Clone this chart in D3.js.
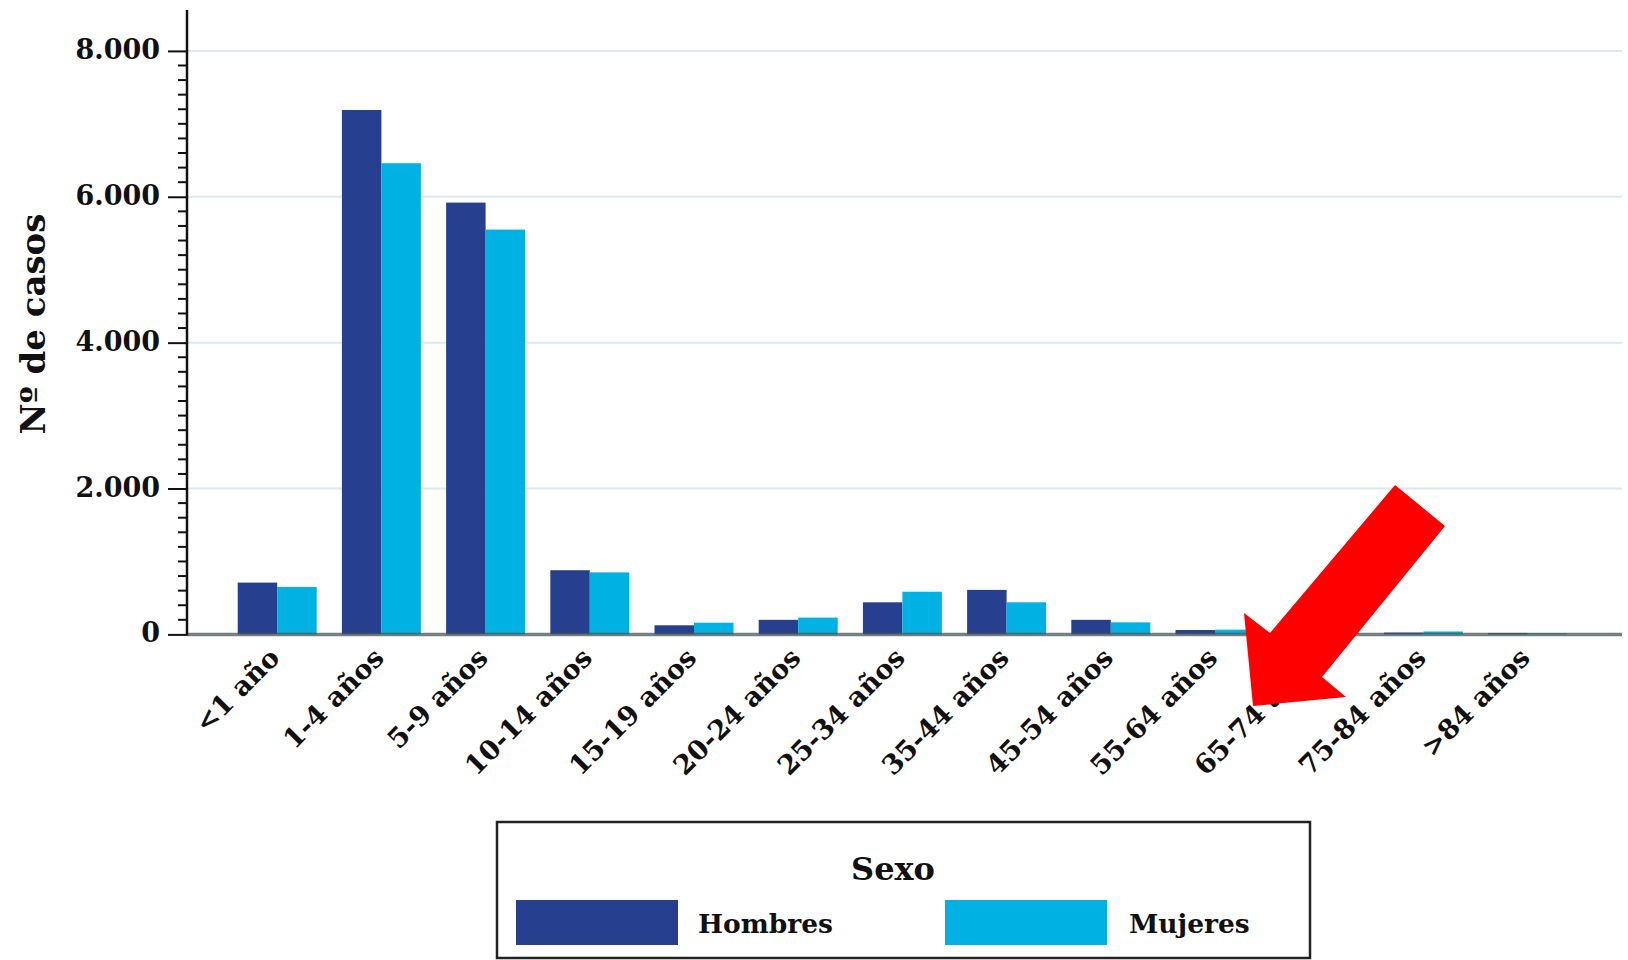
<!DOCTYPE html>
<html>
<head>
<meta charset="utf-8">
<script src="https://cdn.jsdelivr.net/npm/d3@7"></script>
<style>
  html, body { margin: 0; padding: 0; background: #ffffff; }
  svg { display: block; }
  text { font-family: "DejaVu Serif", "Liberation Serif", serif; fill: #111; }
</style>
</head>
<body>
<svg id="chart" width="1628" height="960"></svg>
<script>
// ---- data ----
const categories = ["<1 año", "1-4 años", "5-9 años", "10-14 años", "15-19 años", "20-24 años",
  "25-34 años", "35-44 años", "45-54 años", "55-64 años", "65-74 años", "75-84 años", ">84 años"];
const seriesNames = ["Hombres", "Mujeres"];
const hombres = [710, 7190, 5920, 880, 125, 200, 440, 610, 200, 60, 40, 25, 20];
const mujeres = [650, 6460, 5550, 850, 160, 230, 585, 440, 165, 65, 45, 40, 15];
const yTicks = [0, 2000, 4000, 6000, 8000];
const yTickLabels = ["0", "2.000", "4.000", "6.000", "8.000"];
const colors = ["#26408f", "#00b2e3"];

const svg = d3.select("#chart");

// ---- scales ----
const x0 = d3.scaleBand().domain(categories).range([225.1, 1579.7]).paddingInner(0.242).paddingOuter(0.121);
const x1 = d3.scaleBand().domain(seriesNames).range([0, x0.bandwidth()]).padding(0);
const y = d3.scaleLinear().domain([0, 8000]).range([634.4, 50.9]);
const color = d3.scaleOrdinal().domain(seriesNames).range(colors);

const axisX = 187;
const rightEdge = 1622;

// ---- gridlines ----
svg.append("g").selectAll("line").data(yTicks.filter(d => d > 0)).join("line")
  .attr("x1", axisX).attr("x2", rightEdge)
  .attr("y1", d => y(d)).attr("y2", d => y(d))
  .attr("stroke", "#dbe8ec").attr("stroke-width", 2);

// ---- bars ----
const rows = categories.map((c, i) => ({ cat: c, values: [hombres[i], mujeres[i]] }));
const groups = svg.append("g").selectAll("g").data(rows).join("g")
  .attr("transform", d => `translate(${x0(d.cat)},0)`);
groups.selectAll("rect").data(d => seriesNames.map((s, j) => ({ s, v: d.values[j] }))).join("rect")
  .attr("x", d => x1(d.s))
  .attr("width", x1.bandwidth())
  .attr("y", d => y(d.v))
  .attr("height", d => y(0) - y(d.v))
  .attr("fill", d => color(d.s));

// ---- baseline ----
svg.append("line")
  .attr("x1", axisX).attr("x2", rightEdge)
  .attr("y1", y(0)).attr("y2", y(0))
  .attr("stroke", "#4a5656").attr("stroke-opacity", 0.75).attr("stroke-width", 3.5);

// ---- y axis ----
const yAxis = d3.axisLeft(y).tickValues(yTicks)
  .tickFormat((d, i) => yTickLabels[i]).tickSize(19).tickPadding(8);
const gY = svg.append("g").attr("transform", `translate(${axisX},0)`).call(yAxis);
gY.select(".domain").remove();
gY.selectAll(".tick line").attr("stroke", "#111").attr("stroke-width", 2);
gY.selectAll(".tick text")
  .attr("font-family", '"DejaVu Serif", serif')
  .attr("font-weight", "bold")
  .attr("font-size", 27)
  .attr("fill", "#111")
  .attr("dy", "0.28em");

// minor ticks every 200
const minor = d3.range(200, 8000, 200).filter(v => v % 2000 !== 0);
svg.append("g").selectAll("line").data(minor).join("line")
  .attr("x1", axisX - 9).attr("x2", axisX)
  .attr("y1", d => y(d)).attr("y2", d => y(d))
  .attr("stroke", "#111").attr("stroke-width", 2);

svg.append("line")
  .attr("x1", axisX).attr("x2", axisX)
  .attr("y1", 10).attr("y2", y(0) + 1)
  .attr("stroke", "#111").attr("stroke-width", 2.5);

// ---- x labels ----
const xAxis = d3.axisBottom(x0).tickSize(0).tickPadding(0);
const gX = svg.append("g").attr("transform", `translate(0,${y(0)})`).call(xAxis);
gX.select(".domain").remove();
gX.selectAll(".tick text")
  .attr("font-family", '"DejaVu Serif", serif')
  .attr("font-weight", "bold")
  .attr("font-size", 27)
  .attr("fill", "#111")
  .attr("text-anchor", "end")
  .attr("y", 0).attr("dy", 0)
  .attr("transform", "translate(4,25) rotate(-45)");

// ---- y title ----
svg.append("text")
  .attr("transform", `translate(45,${324}) rotate(-90)`)
  .attr("text-anchor", "middle")
  .attr("font-weight", "bold")
  .attr("font-size", 34)
  .text("Nº de casos");

// ---- legend ----
const lg = svg.append("g");
lg.append("rect").attr("x", 497).attr("y", 822).attr("width", 813).attr("height", 136)
  .attr("fill", "none").attr("stroke", "#222").attr("stroke-width", 2.5);
lg.append("text").attr("x", 893).attr("y", 880).attr("text-anchor", "middle")
  .attr("font-weight", "bold").attr("font-size", 32).text("Sexo");
const legendItems = [
  { name: seriesNames[0], sx: 516, tx: 698 },
  { name: seriesNames[1], sx: 945, tx: 1129 }
];
legendItems.forEach(it => {
  lg.append("rect").attr("x", it.sx).attr("y", 900).attr("width", 162).attr("height", 45)
    .attr("fill", color(it.name));
  lg.append("text").attr("x", it.tx).attr("y", 933)
    .attr("font-weight", "bold").attr("font-size", 26.5).text(it.name);
});

// ---- red arrow annotation ----
const arrowPts = [[1395, 485], [1445, 526], [1322, 677], [1346, 697], [1253, 706], [1244, 613], [1270, 633]];
svg.append("path")
  .attr("d", d3.line()(arrowPts) + "Z")
  .attr("fill", "#ff0000");
</script>
</body>
</html>
